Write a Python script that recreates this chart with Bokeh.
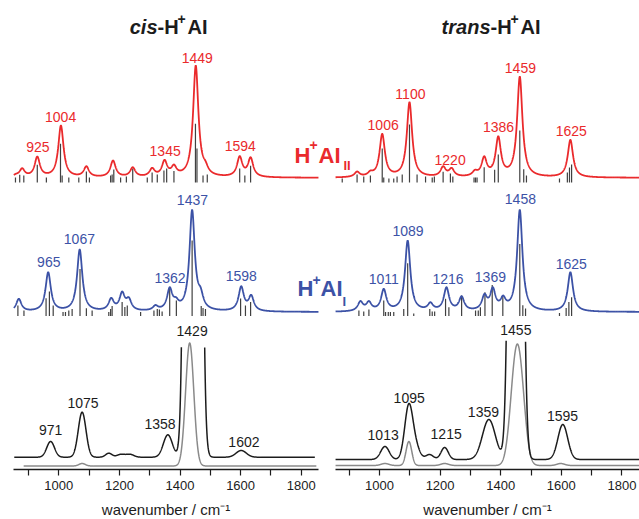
import numpy as np
from bokeh.plotting import figure
from bokeh.models import Range1d, LinearAxis, FixedTicker, Label, ColumnDataSource
from bokeh.core.properties import value
from bokeh.embed import file_html
from bokeh.resources import INLINE

# ---------------- data ----------------
# calculated spectra: band centres (cm-1) and band heights (arb. u.)
cis_II_peak_wn = [858, 879, 929, 1007, 1091, 1179, 1244, 1308, 1349, 1380, 1452, 1484, 1597, 1633]
cis_II_peak_h = [4, 9.6, 21.3, 52.3, 11.6, 17.3, 10.6, 10, 18, 13.3, 112.3, 17, 21.7, 20.6]
cis_II_stick_wn = [857, 871, 884.5, 929, 959, 1005.6, 1011, 1033, 1066, 1091, 1101, 1171, 1176, 1181.5,
                   1204, 1223, 1244, 1292, 1308, 1325, 1347, 1356, 1380, 1451, 1456, 1476, 1490, 1597, 1614, 1633]
cis_II_stick_h = [5, 7.7, 7, 17.7, 5, 38.7, 7, 5, 5, 11, 5, 7, 8, 13,
                  5, 6, 14, 5, 10, 8, 12, 14, 11.5, 58.7, 34, 7, 8, 14, 7, 16.7]

trans_II_peak_wn = [926, 970, 1009, 1099, 1210, 1238, 1315, 1345.5, 1392, 1463, 1630]
trans_II_peak_h = [6.3, 7.3, 44, 75.6, 11.6, 10, 8, 21.6, 41.6, 101.3, 38]
trans_II_stick_wn = [877, 926, 948, 970, 1009, 1014, 1031, 1047, 1058, 1075, 1099, 1124, 1152, 1174, 1181,
                     1210, 1234, 1242, 1312, 1317, 1322, 1345.5, 1380, 1392, 1463, 1476, 1485, 1594, 1620, 1627, 1634]
trans_II_stick_h = [4, 8, 6, 7, 34, 5, 4, 4, 6, 8, 58, 8, 6, 5, 6,
                    10.7, 9, 6, 5, 5, 5, 15.3, 12.7, 28, 52, 13.3, 7, 4, 10, 15, 18]

cis_I_peak_wn = [868, 965, 1069, 1173, 1209, 1231, 1319, 1366, 1387, 1440, 1468, 1602, 1635]
cis_I_peak_h = [13.2, 39.8, 62.5, 14.2, 20.5, 14.8, 7, 24.8, 14.8, 102.2, 24.8, 25.8, 17.2]
cis_I_stick_wn = [865, 885, 958, 969, 981.5, 1014, 1022, 1033, 1044, 1070, 1091, 1110, 1165, 1171, 1176,
                  1209, 1218, 1226, 1270, 1314, 1325, 1332, 1341, 1366, 1388, 1440, 1470, 1476, 1484, 1600, 1616, 1633]
cis_I_stick_h = [10.5, 5.5, 17.8, 24.5, 10.5, 4, 4, 5.5, 7, 47, 7.8, 5.5, 4, 7, 10,
                 14, 9, 10.5, 4, 5.5, 7, 6.5, 4.5, 27, 15.5, 75.5, 10, 8, 7, 17.5, 10.5, 14]

trans_I_peak_wn = [937, 965, 1014, 1093, 1168, 1221, 1271, 1346.5, 1374, 1408, 1463, 1630]
trans_I_peak_h = [11, 11, 23.2, 71.5, 9.8, 24.8, 15.8, 18.2, 24.8, 16.5, 102.2, 39.8]
trans_I_stick_wn = [932, 948, 965, 1014, 1020, 1029, 1036, 1047, 1080, 1093, 1113, 1166, 1174, 1182, 1218,
                    1229, 1271, 1317, 1326, 1333, 1348, 1372, 1407, 1463, 1473, 1482, 1594, 1616, 1625, 1634]
trans_I_stick_h = [5.5, 4.5, 6.5, 15.5, 4, 4, 4, 4, 7, 52.8, 2.5, 7, 4.5, 4.5, 17.2,
                   8.8, 20.5, 5.5, 5.5, 8.8, 23.8, 31, 21, 72, 10.8, 7.5, 3, 8, 14, 18.8]

# measured spectra: band centres, heights, FWHM
cis_exp_wn = [973, 1077, 1165, 1205, 1235, 1360, 1392, 1443, 1602]
cis_exp_h = [15.7, 45, 4, 3, 3, 22.4, 8, 4000, 6.7]
cis_exp_fwhm = [30, 30, 25, 30, 30, 35, 20, 33.8, 40]
cis_ref_wn = [1077, 1432]
cis_ref_h = [2.5, 123]
cis_ref_fwhm = [25, 32]

trans_exp_wn = [1018, 1097, 1122, 1165, 1215, 1361, 1450, 1605]
trans_exp_h = [13, 56, 20, 5, 12, 40, 1500, 35]
trans_exp_fwhm = [33, 32, 30, 30, 28, 50, 33.4, 38]
trans_ref_wn = [1018, 1097, 1215, 1446, 1465, 1598]
trans_ref_h = [2, 24, 2, 110, 108, 2]
trans_ref_fwhm = [30, 22, 30, 40, 40, 30]

# peak annotations
cis_II_labels = ["925", "1004", "1345", "1449", "1594"]
trans_II_labels = ["1006", "1100", "1220", "1386", "1459", "1625"]
cis_I_labels = ["965", "1067", "1362", "1437", "1598"]
trans_I_labels = ["1011", "1089", "1216", "1369", "1458", "1625"]
cis_exp_labels = ["971", "1075", "1358", "1429", "1602"]
trans_exp_labels = ["1013", "1095", "1215", "1359", "1455", "1595"]

major_ticks = [1000, 1200, 1400, 1600, 1800]
minor_ticks = [900, 1100, 1300, 1500, 1700]

# ---------------- layout ----------------
W, H = 639, 519
PX_PER_WN = 0.303
AXIS_PY = 469.3
FONT = "Liberation Sans"
RED = "#ea2a2c"
BLUE = "#3c52a6"
BLACK = "#1c1c1c"
GRAY = "#8a8a8a"
STICK = "#404040"
CALC_FWHM = 21.0

def ly(py):
    return AXIS_PY - py

RED_BASE, RED_STICK = ly(177.3), ly(182.0)
BLUE_BASE, BLUE_STICK = ly(311.5), ly(315.5)

def profile(x, c, w, kind):
    if kind == "L":
        hw = w / 2.0
        return hw ** 2 / ((x - c) ** 2 + hw ** 2)
    return np.exp(-4 * np.log(2) * (x - c) ** 2 / w ** 2)

def spectrum(grid, centers, heights, widths, kind):
    c = np.asarray(centers, float)
    h = np.asarray(heights, float)
    w = np.broadcast_to(np.asarray(widths, float), c.shape)
    M = np.array([[profile(ci, cj, wj, kind) for cj, wj in zip(c, w)] for ci in c])
    a = h.copy()
    for _ in range(300):
        a = a * h / (M @ a)
    return sum(aj * profile(grid, cj, wj, kind) for aj, cj, wj in zip(a, c, w))

p = figure(width=W, height=H, x_range=Range1d(0, W), y_range=Range1d(AXIS_PY - H, AXIS_PY),
           x_axis_location=None, y_axis_location=None, toolbar_location=None,
           output_backend="svg", min_border=0)
p.outline_line_color = None
p.grid.visible = False
p.background_fill_color = "white"
p.border_fill_color = "white"

panels = {
    "cis": dict(x1000=58.3, lo=851.5, hi=1857,
                II=(cis_II_peak_wn, cis_II_peak_h, cis_II_stick_wn, cis_II_stick_h, cis_II_labels,
                    [931, 1006, 1351, 1457, 1599], [31.3, 61, 26.5, 119.8, 32.3]),
                I=(cis_I_peak_wn, cis_I_peak_h, cis_I_stick_wn, cis_I_stick_h, cis_I_labels,
                   [967, 1068, 1367, 1441, 1602], [49.7, 73, 34, 112.3, 35.7]),
                exp=(cis_exp_wn, cis_exp_h, cis_exp_fwhm, cis_exp_labels,
                     [973, 1080, 1334, 1440, 1611], [27.2, 54.7, 33.7, 125.9, 15.7]),
                ref=(cis_ref_wn, cis_ref_h, cis_ref_fwhm),
                black_base=ly(456.7), gray_base=ly(465.5), cap=119.4,
                exp_span=(853, 1845), ref_span=(884, 1850)),
    "trans": dict(x1000=379.0, lo=855, hi=1858,
                  II=(trans_II_peak_wn, trans_II_peak_h, trans_II_stick_wn, trans_II_stick_h, trans_II_labels,
                      [1012, 1102, 1233, 1393, 1465, 1633], [53.3, 84, 18.3, 51, 109.8, 47.3]),
                  I=(trans_I_peak_wn, trans_I_peak_h, trans_I_stick_wn, trans_I_stick_h, trans_I_labels,
                     [1014, 1094, 1226, 1366, 1465, 1633], [33, 81.5, 33, 34.8, 113, 48]),
                  exp=(trans_exp_wn, trans_exp_h, trans_exp_fwhm, trans_exp_labels,
                       [1012, 1098, 1220, 1343, 1450, 1604], [25, 62, 26, 47.3, 129.8, 44]),
                  ref=(trans_ref_wn, trans_ref_h, trans_ref_fwhm),
                  black_base=ly(459.0), gray_base=ly(465.0), cap=122,
                  exp_span=(855, 1858), ref_span=(855, 1858)),
}

p.extra_x_ranges = {name: Range1d(1000 - d["x1000"] / PX_PER_WN, 1000 + (W - d["x1000"]) / PX_PER_WN)
                    for name, d in panels.items()}

def add_labels(rn, texts, xs, ys, base, color):
    src = ColumnDataSource(dict(x=xs, y=[base + v for v in ys], t=texts))
    p.text(x="x", y="y", text="t", source=src, x_range_name=rn, text_font=value(FONT),
           text_font_size="14px", text_align="center", text_baseline="middle", text_color=color)

for rn, d in panels.items():
    grid = np.arange(d["lo"], d["hi"] + 0.5, 0.5)
    for key, base, sbase, color in (("II", RED_BASE, RED_STICK, RED), ("I", BLUE_BASE, BLUE_STICK, BLUE)):
        pw, ph, sw, sh, labs, lx, lyy = d[key]
        src = ColumnDataSource(dict(x=sw, y0=[sbase] * len(sw), y1=[sbase + v for v in sh]))
        p.segment(x0="x", y0="y0", x1="x", y1="y1", source=src, x_range_name=rn,
                  line_color=STICK, line_width=1.2)
        curve = spectrum(grid, pw, ph, CALC_FWHM, "L")
        p.line(grid, base + curve, x_range_name=rn, line_color=color, line_width=1.8)
        add_labels(rn, labs, lx, lyy, base, color)
    # measured spectra
    rw, rh, rf = d["ref"]
    g2 = np.arange(d["ref_span"][0], d["ref_span"][1] + 0.5, 0.5)
    p.line(g2, d["gray_base"] + spectrum(g2, rw, rh, rf, "G"), x_range_name=rn,
           line_color=GRAY, line_width=1.5)
    ew, eh, ef, labs, lx, lyy = d["exp"]
    g1 = np.arange(d["exp_span"][0], d["exp_span"][1] + 0.5, 0.5)
    ec = spectrum(g1, ew, eh, ef, "G")
    ey = np.where(ec > d["cap"], np.nan, d["black_base"] + ec)
    p.line(g1, ey, x_range_name=rn, line_color=BLACK, line_width=1.5)
    add_labels(rn, labs, lx, lyy, d["black_base"], BLACK)

    ax = LinearAxis(x_range_name=rn, bounds=(d["lo"], d["hi"]),
                    ticker=FixedTicker(ticks=major_ticks, minor_ticks=minor_ticks),
                    fixed_location=0, axis_label="wavenumber / cm⁻¹")
    ax.axis_line_color = BLACK
    ax.axis_line_width = 1.3
    ax.major_tick_line_color = BLACK
    ax.minor_tick_line_color = BLACK
    ax.major_tick_line_width = 1.2
    ax.minor_tick_line_width = 1.2
    ax.major_tick_in = 0
    ax.major_tick_out = 6
    ax.minor_tick_in = 0
    ax.minor_tick_out = 6
    ax.major_label_text_font = FONT
    ax.major_label_text_font_size = "13px"
    ax.major_label_text_color = BLACK
    ax.major_label_standoff = 5
    ax.axis_label_text_font = FONT
    ax.axis_label_text_font_size = "15px"
    ax.axis_label_text_font_style = "normal"
    ax.axis_label_text_color = BLACK
    ax.axis_label_standoff = 8
    p.add_layout(ax, "below")

def lab(x, py, text, size, style="bold", color=BLACK, align="left"):
    p.add_layout(Label(x=x, y=ly(py), text=text, text_font=FONT, text_font_size=size,
                       text_font_style=style, text_color=color, text_align=align,
                       text_baseline="middle"))

# panel titles
lab(157, 26.7, "cis", "20px", "bold italic", align="right")
lab(157, 26.7, "-H", "20px")
lab(177, 18.3, "+", "14px")
lab(187, 26.7, "AI", "20px")
lab(490, 26.7, "trans", "20px", "bold italic", align="right")
lab(490, 26.7, "-H", "20px")
lab(510, 18.3, "+", "14px")
lab(520, 26.7, "AI", "20px")

# series labels
lab(294, 155, "H", "22px", color=RED)
lab(309, 144, "+", "14px", color=RED)
lab(318, 155, "AI", "22px", color=RED)
lab(343, 164.5, "II", "13px", color=RED)
lab(297, 288.3, "H", "22px", color=BLUE)
lab(312, 279, "+", "14px", color=BLUE)
lab(320, 288.3, "AI", "22px", color=BLUE)
lab(342, 301, "I", "13px", color=BLUE)

open("out.html", "w").write(file_html(p, INLINE))
